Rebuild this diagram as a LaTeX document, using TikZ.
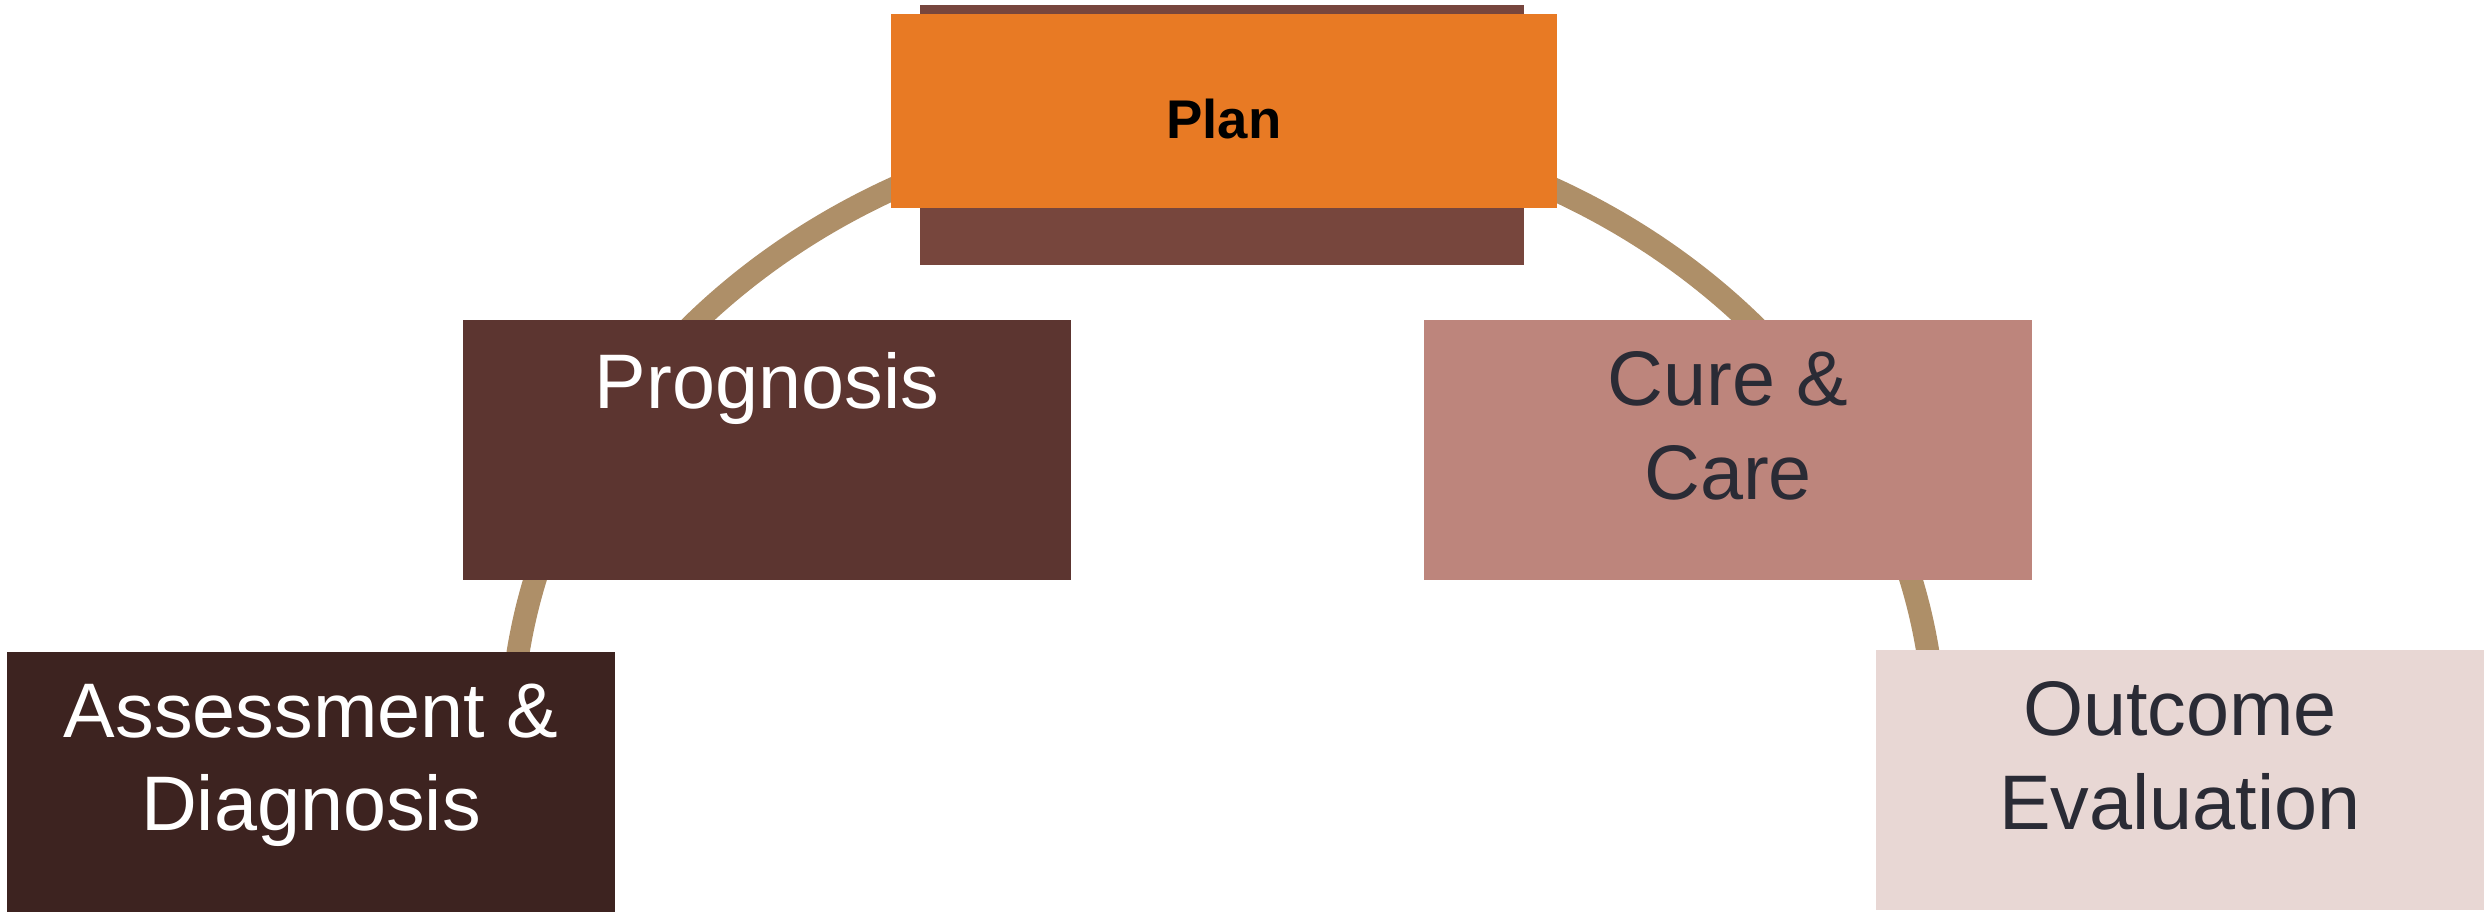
\documentclass[tikz,border=0pt]{standalone}
\usepackage{fontspec}
\setmainfont{Liberation Sans}
\usetikzlibrary{positioning}

\definecolor{planorange}{HTML}{E87A24}
\definecolor{planback}{HTML}{77463D}
\definecolor{progbrown}{HTML}{5C3530}
\definecolor{assessbrown}{HTML}{3D2320}
\definecolor{curepink}{HTML}{BD857C}
\definecolor{outcomepink}{HTML}{E8D7D4}
\definecolor{ringtan}{HTML}{AE8F68}
\definecolor{darktext}{HTML}{2A2B35}

\begin{document}
\begin{tikzpicture}%
  [x=0.01cm,y=-0.01cm,
   stage/.style=
    {minimum width=6.07cm,minimum height=2.6cm,inner sep=0pt},
   stagetext/.style=
    {inner sep=0pt,align=center,font=\fontsize{22}{26.5}\selectfont},
   plan/.style=
    {minimum width=6.65cm,minimum height=1.94cm,inner sep=0pt,
     text height=0.55cm,font=\fontsize{15.5}{19}\selectfont\bfseries},
   ring/.style={ringtan,line width=0.23cm}
  ]
  \useasboundingbox (0,0) rectangle (2484,912);
  \coordinate (centre) at (1223,740);
  \draw[ring] ([shift={(centre)}]185:712 and 622)
    arc[start angle=185,end angle=355,x radius=712,y radius=622];

  \node[stage,minimum width=6.04cm,minimum height=2.59cm,fill=planback] (planbk) at (1222,135) {};
  \node[plan,fill=planorange] (plan) at (1224,111) {Plan};

  \node[stage,fill=progbrown] (prog) at (767,450) {};
  \node[stagetext,text=white,below=0.32cm of prog.north] (progtext) {Prognosis};

  \node[stage,fill=curepink] (cure) at (1728,450) {};
  \node[stagetext,text=darktext,below=0.32cm of cure.north] (curetext) {Cure \&\\Care};

  \node[stage,fill=assessbrown] (assess) at (311,782) {};
  \node[stagetext,text=white,below=0.32cm of assess.north] (assesstext) {Assessment \&\\Diagnosis};

  \node[stage,fill=outcomepink] (outcome) at (2180,780) {};
  \node[stagetext,text=darktext,below=0.32cm of outcome.north] (outcometext) {Outcome\\Evaluation};

\end{tikzpicture}
\end{document}
